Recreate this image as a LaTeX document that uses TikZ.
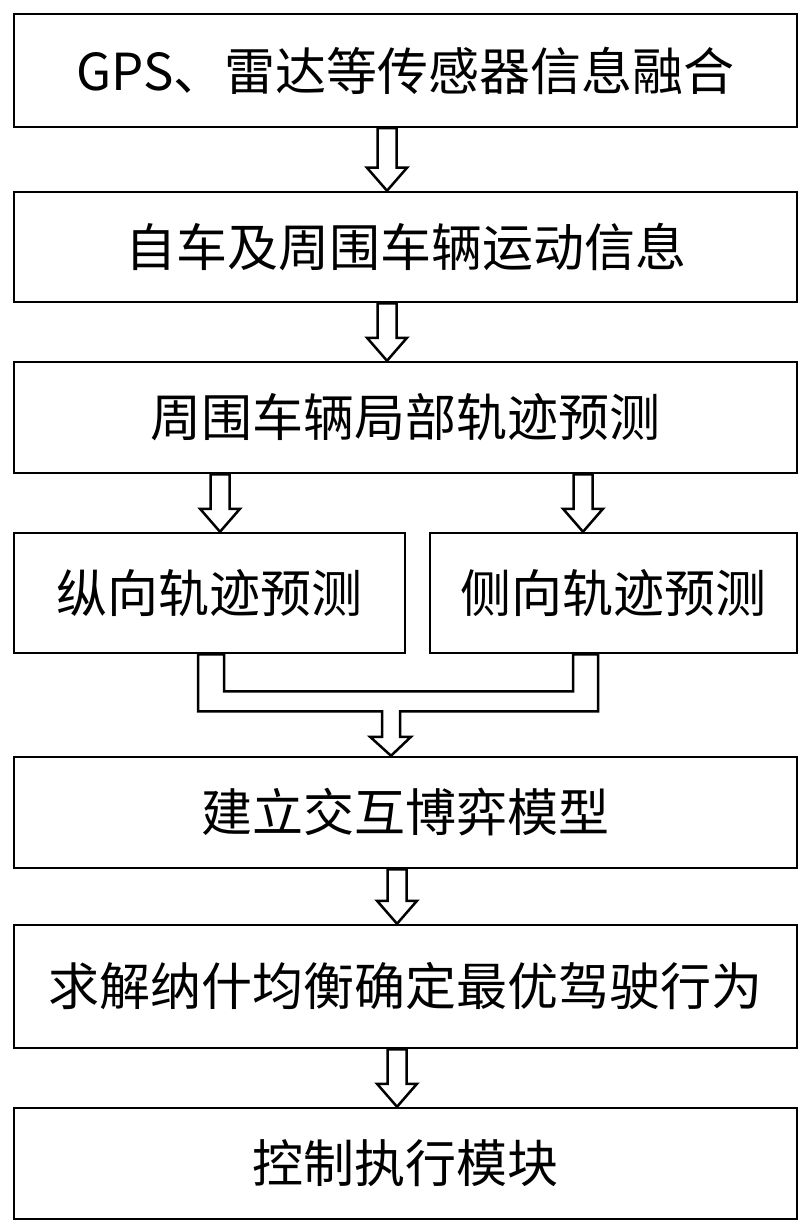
\documentclass[tikz,border=0pt]{standalone}
\usepackage{fontspec}
\setmainfont{Noto Sans CJK SC}
\usetikzlibrary{calc}

\tikzset{
  box/.style={draw, line width=2.5pt, minimum width=783pt, inner sep=0pt,
    font=\fontsize{51}{60}\selectfont},
  hollow/.style={draw, line width=2.5pt, line join=miter, fill=white}
}
% hollow arrow: x position, start node, end node
\newcommand{\harrow}[3]{%
  \path[hollow] let \p1=(#2.south), \p2=(#3.north) in
    (#1-9.5,\y1) -- (#1-9.5,\y2+23) -- (#1-20,\y2+23) -- (#1,\y2)
    -- (#1+20,\y2+23) -- (#1+9.5,\y2+23) -- (#1+9.5,\y1) -- cycle;}

\begin{document}
\begin{tikzpicture}[x=1pt, y=-1pt]
\useasboundingbox (0,0) rectangle (810,1230);

\node[box, minimum height=113pt] (fusion) at (405.5,70.5) {GPS、雷达等传感器信息融合};
\node[box, minimum height=110pt] (motion) at (405.5,247) {自车及周围车辆运动信息};
\node[box, minimum height=111pt] (local) at (405.5,417.5) {周围车辆局部轨迹预测};
\node[box, minimum height=120pt, minimum width=391pt] (lon) at (209.5,593) {纵向轨迹预测};
\node[box, minimum height=120pt, minimum width=367pt] (lat) at (613.5,593) {侧向轨迹预测};
\node[box, minimum height=111pt] (game) at (405.5,812.5) {建立交互博弈模型};
\node[box, minimum height=123pt] (nash) at (405.5,986.5) {求解纳什均衡确定最优驾驶行为};
\node[box, minimum height=111pt] (ctrl) at (405.5,1163.5) {控制执行模块};

\harrow{387}{fusion}{motion}
\harrow{387}{motion}{local}
\harrow{220}{local}{lon}
\harrow{583}{local}{lat}
\harrow{397}{game}{nash}
\harrow{397}{nash}{ctrl}

% merging channel
\path[hollow] let \p1=(lon.south), \p2=(game.north) in
  (198,\y1) -- (198,\y1-57) -- (382,\y1-57) -- (382,\y2+19) -- (370,\y2+19)
  -- (391,\y2) -- (411,\y2+19) -- (400,\y2+19) -- (400,\y1-57) -- (598,\y1-57)
  -- (598,\y1) -- (573,\y1) -- (573,\y1-37) -- (224,\y1-37) -- (224,\y1) -- cycle;
\end{tikzpicture}
\end{document}
